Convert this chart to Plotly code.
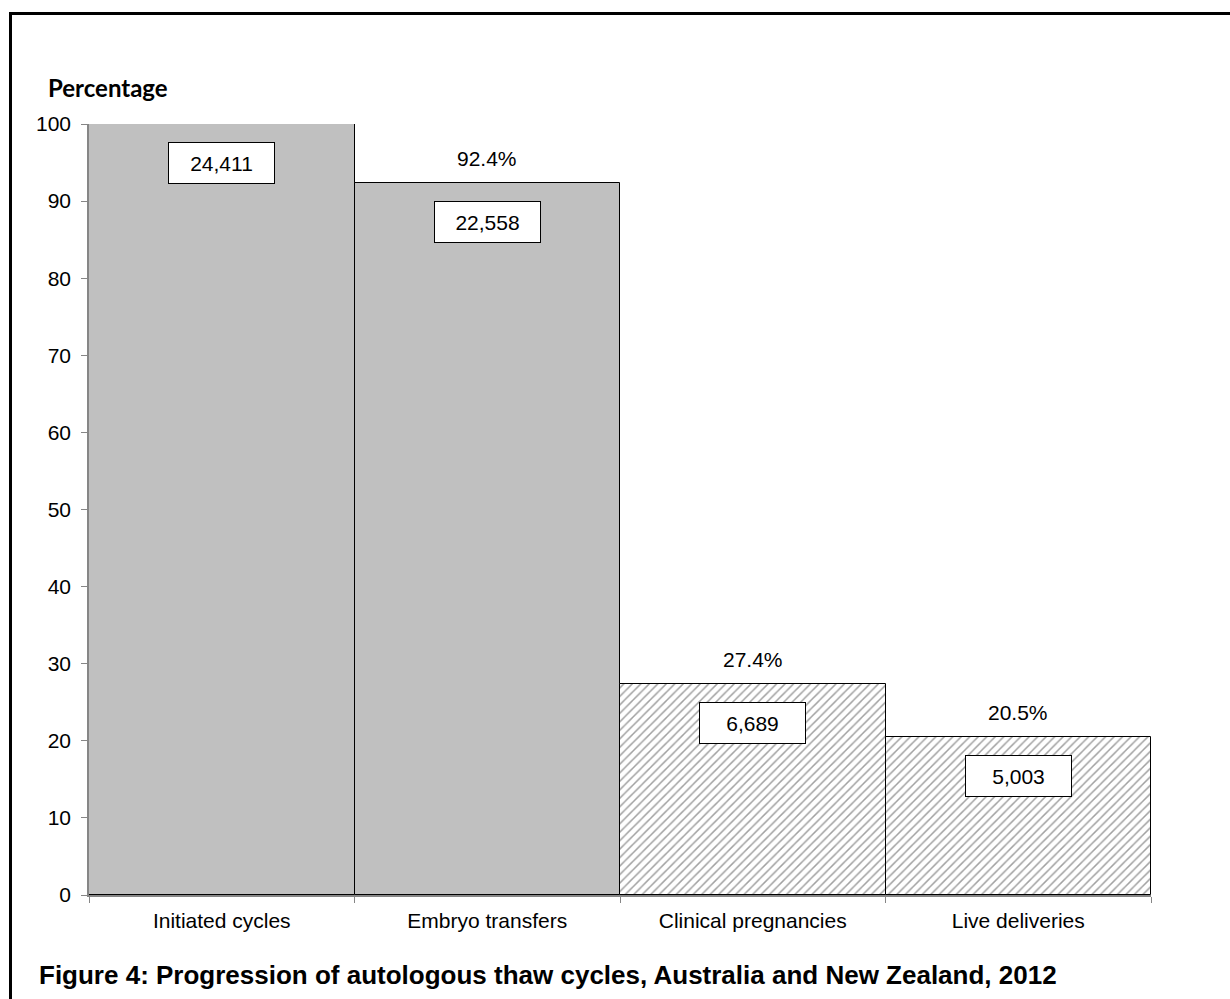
import plotly.graph_objects as go

# Progression of autologous thaw cycles
stages = ["Initiated cycles", "Embryo transfers", "Clinical pregnancies", "Live deliveries"]
counts = [24411, 22558, 6689, 5003]
percent = [100, 92.4, 27.4, 20.5]
pct_labels = ["", "92.4%", "27.4%", "20.5%"]
hatched = [False, False, True, True]

W, H = 1230, 999
L, R, T, B = 89, 1151, 124, 895  # plot area in pixels

FONT = "Liberation Sans, Arial, sans-serif"


def px(x):
    return (x - L) / (R - L)


def py(y):
    return (B - y) / (B - T)


fig = go.Figure()
fig.add_trace(go.Bar(
    x=stages,
    y=percent,
    marker=dict(
        color=["#c0c0c0" if not h else "white" for h in hatched],
        line=dict(color="black", width=1),
        pattern=dict(
            shape=["" if not h else "/" for h in hatched],
            fgcolor="#d6d6d6",
            bgcolor="white",
            size=6,
            solidity=0.25,
        ),
    ),
    hoverinfo="skip",
))

annotations = []
for s, c, p, lab in zip(stages, counts, percent, pct_labels):
    # boxed count inside the bar
    annotations.append(dict(
        x=s, y=p, xref="x", yref="y",
        text=f"{c:,}",
        showarrow=False,
        yanchor="middle", yshift=-39,
        font=dict(family=FONT, size=21, color="black"),
        bgcolor="white", bordercolor="black", borderwidth=1,
        width=99, height=34, borderpad=3,
    ))
    # percentage above the bar
    if lab:
        annotations.append(dict(
            x=s, y=p, xref="x", yref="y",
            text=lab, showarrow=False,
            yanchor="middle", yshift=24,
            font=dict(family=FONT, size=21, color="black"),
        ))

annotations.append(dict(
    x=px(46), y=py(88), xref="paper", yref="paper",
    xanchor="left", yanchor="middle", showarrow=False,
    text="<b>Percentage</b>",
    font=dict(family="Lato, Open Sans, sans-serif", size=24, color="black"),
))
annotations.append(dict(
    x=px(37), y=py(975), xref="paper", yref="paper",
    xanchor="left", yanchor="middle", showarrow=False,
    text="<b>Figure 4: Progression of autologous thaw cycles, Australia and New Zealand, 2012</b>",
    font=dict(family=FONT, size=26, color="black"),
))

fig.update_layout(
    width=W, height=H,
    margin=dict(l=L, r=W - R, t=T, b=H - B),
    paper_bgcolor="white", plot_bgcolor="white",
    bargap=0,
    showlegend=False,
    annotations=annotations,
    shapes=[dict(
        type="rect", xref="paper", yref="paper",
        x0=px(10.5), x1=px(W + 50), y0=py(H + 50), y1=py(13.5),
        line=dict(color="black", width=3), fillcolor="rgba(0,0,0,0)",
        layer="below",
    )],
    xaxis=dict(
        showline=True, linecolor="#868686", linewidth=1.5,
        ticks="outside", tickson="boundaries", ticklen=6, tickcolor="#868686",
        ticklabelstandoff=6,
        tickfont=dict(family=FONT, size=21, color="black"),
        showgrid=False, zeroline=False,
    ),
    yaxis=dict(
        range=[0, 100], dtick=10,
        showline=True, linecolor="#868686", linewidth=1.5,
        ticks="outside", ticklen=6, tickcolor="#868686",
        ticklabelstandoff=6,
        tickfont=dict(family=FONT, size=21, color="black"),
        showgrid=False, zeroline=False,
    ),
)

fig.write_html("out.html")
